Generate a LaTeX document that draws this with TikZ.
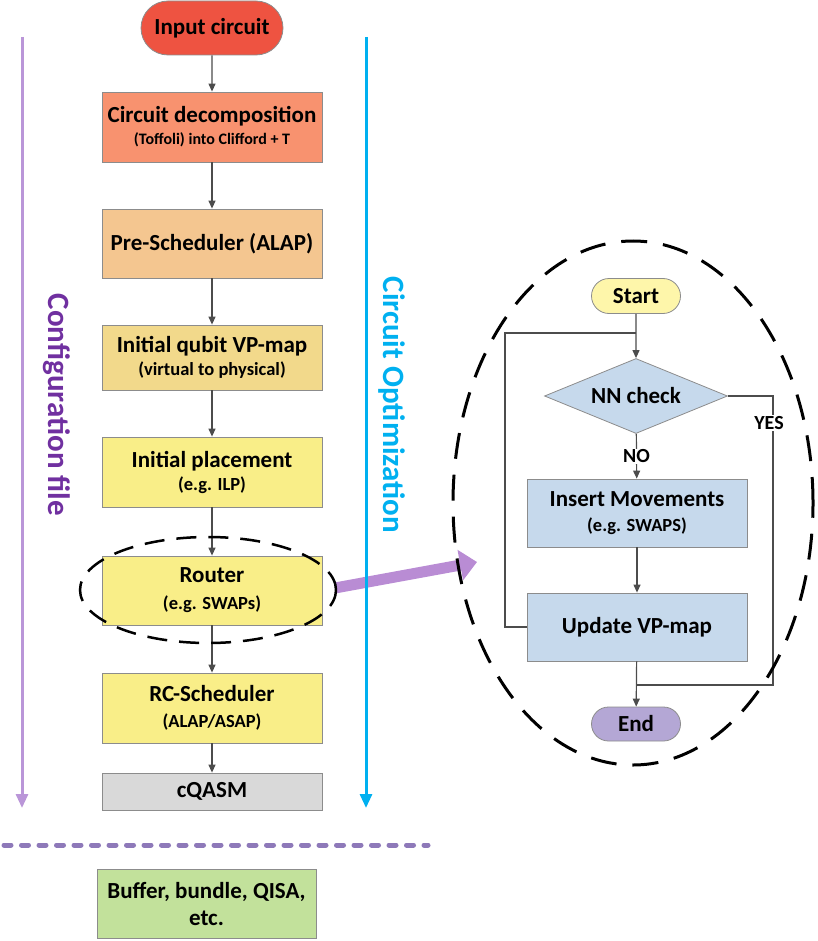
\documentclass[tikz,border=0pt]{standalone}
\usepackage{fontspec}
\setmainfont{Carlito}
\usetikzlibrary{arrows.meta,shapes.geometric,shapes.misc,positioning}

\definecolor{inred}{HTML}{EE5341}
\definecolor{decsalmon}{HTML}{F8926F}
\definecolor{preorange}{HTML}{F4C690}
\definecolor{mapgold}{HTML}{F2D98B}
\definecolor{stepyellow}{HTML}{F9EE88}
\definecolor{qasmgray}{HTML}{D9D9D9}
\definecolor{bufgreen}{HTML}{C2E19B}
\definecolor{startyellow}{HTML}{FEF6AA}
\definecolor{routeblue}{HTML}{C6D9EC}
\definecolor{endpurple}{HTML}{B4A7D5}
\definecolor{cfgline}{HTML}{BA96D8}
\definecolor{cfgtext}{HTML}{7030A0}
\definecolor{optblue}{HTML}{00B0F0}
\definecolor{dotpurple}{HTML}{8E79B9}
\definecolor{bigarrow}{HTML}{B98CD4}

\newcommand{\subline}[1]{{\fontsize{18.5}{20}\selectfont #1}}

\tikzset{
  box/.style={draw=black!45, line width=0.8pt, minimum width=220pt, minimum height=69pt,
    align=center, inner sep=2pt, font=\bfseries\fontsize{23}{26}\selectfont},
  pill/.style={rounded rectangle, draw=black!45, line width=0.8pt, inner sep=2pt,
    font=\bfseries\fontsize{23}{26}\selectfont},
  check/.style={diamond, aspect=2.4, draw=black!45, line width=0.8pt, inner sep=0pt,
    minimum width=183pt, minimum height=75pt, fill=routeblue,
    font=\bfseries\fontsize{23}{26}\selectfont},
  lbl/.style={fill=white, inner sep=1pt, font=\bfseries\fontsize{20}{22}\selectfont},
  flow/.style={draw=black!70, line width=1.2pt, -{Triangle[length=8pt,width=7pt]}},
  link/.style={draw=black!70, line width=1.2pt},
  side/.style={line width=3pt, -{Triangle[length=14pt,width=12pt]}},
  sidetext/.style={rotate=-90, font=\bfseries\fontsize{31}{33}\selectfont},
}

\begin{document}
\begin{tikzpicture}[x=1pt, y=-1pt]
    \useasboundingbox (0,0) rectangle (817,941);

    % draw big arrow to the zoomed router
    \coordinate (arrs) at (335,588);
    \coordinate (arre) at (477,562);
    \draw[line width=11pt, bigarrow, -{Triangle[length=17pt,width=30pt]}] (arrs) -- (arre);

    % draw side lines
    \coordinate (cfgtop) at (22,37);
    \coordinate (cfgbot) at (22,808);
    \coordinate (opttop) at (366,37);
    \coordinate (optbot) at (366,808);
    \draw[side, cfgline] (cfgtop) -- (cfgbot);
    \draw[side, optblue] (opttop) -- (optbot);
    \node[sidetext, cfgtext] (cfg) at (57,405) {Configuration file};
    \node[sidetext, optblue] (opt) at (392,405) {Circuit Optimization};

    % draw main flow
    \node[pill, fill=inred, minimum width=146pt, minimum height=54pt] (inp) at (212,28) {Input circuit};
    \node[box, fill=decsalmon, minimum height=70pt] (dec) at (212,127)
      {Circuit decomposition\\[-4pt]{\fontsize{16}{18}\selectfont (Toffoli) into Clifford + T}};
    \node[box, fill=preorange] (pre) at (212,243.5) {Pre-Scheduler (ALAP)};
    \node[box, fill=mapgold, minimum height=65pt] (vpm) at (212,357.5)
      {Initial qubit VP-map\\[-3pt]\subline{(virtual to physical)}};
    \node[box, fill=stepyellow, minimum height=70pt] (plc) at (212,472)
      {Initial placement\\[-3pt]\subline{(e.g. ILP)}};
    \node[box, fill=stepyellow] (rtr) at (212,590.5)
      {Router\\[1pt]\subline{(e.g. SWAPs)}};
    \node[box, fill=stepyellow, minimum height=70pt] (rcs) at (212,708)
      {RC-Scheduler\\[0pt]\subline{(ALAP/ASAP)}};
    \node[box, fill=qasmgray, minimum height=37pt] (cqa) at (212,791.5) {cQASM};

    \foreach \a/\b in {inp/dec, dec/pre, pre/vpm, vpm/plc, plc/rtr, rtr/rcs, rcs/cqa}
      \draw[flow] (\a) -- (\b);

    % draw separator and back end
    \coordinate (sepl) at (4,845);
    \coordinate (sepr) at (428,845);
    \draw[dotpurple, line width=5pt, line cap=round, dash pattern=on 7pt off 10.5pt] (sepl) -- (sepr);
    \node[box, fill=bufgreen, minimum width=219pt] (buf) at (206.5,903.5)
      {Buffer, bundle, QISA,\\[1pt]etc.};

    % draw router detail
    \node[pill, fill=startyellow, minimum width=93pt, minimum height=35pt] (start) at (636,296) {Start};
    \node[check] (nn) at (636,396) {NN check};
    \node[box, fill=routeblue, minimum height=68pt] (ins) at (637,513)
      {Insert Movements\\[-1pt]\subline{(e.g. SWAPS)}};
    \node[box, fill=routeblue, minimum height=68pt] (upd) at (637,627) {Update VP-map};
    \node[pill, fill=endpurple, minimum width=93pt, minimum height=34pt] (endn) at (636,724) {End};

    \coordinate (loopc) at (505,333);
    \coordinate (loopm) at (636,333);
    \coordinate (yesc) at (773,685);
    \coordinate (yesm) at (636,685);

    \draw[flow] (start) -- (nn);
    \draw[link] (upd.west) -| (loopc) -- (loopm);
    \draw[flow] (nn) -- (ins) node[lbl, midway] (no) {NO};
    \draw[flow] (ins) -- (upd);
    \draw[link] (nn.east) -| (yesc) -- (yesm);
    \node[lbl] (yes) at (769,423) {YES};
    \draw[flow] (upd) -- (endn);

    % draw dashed ellipses
    \node[draw, ellipse, line width=2.5pt, dash pattern=on 20pt off 12pt, minimum width=256pt,
      minimum height=106pt] (focus) at (208,590) {};
    \node[draw, ellipse, line width=3pt, dash pattern=on 26pt off 16pt, minimum width=360pt,
      minimum height=524pt] (detail) at (633,503) {};
\end{tikzpicture}
\end{document}
